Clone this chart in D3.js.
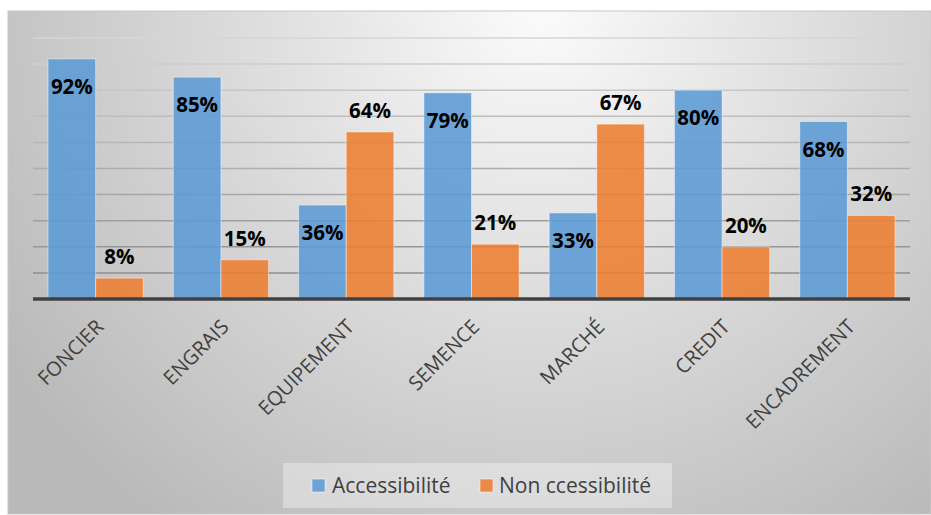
<!DOCTYPE html>
<html><head><meta charset="utf-8">
<script src="https://cdn.jsdelivr.net/npm/d3@7"></script>
<style>html,body{margin:0;padding:0;background:#fff;}svg{display:block;}</style>
</head><body>
<svg id="c" width="931" height="515"></svg>
<script>
const categories = ["FONCIER","ENGRAIS","EQUIPEMENT","SEMENCE","MARCHÉ","CREDIT","ENCADREMENT"];
const seriesNames = ["Accessibilité","Non ccessibilité"];
const accessibilite = [92,85,36,79,33,80,68];
const nonAccessibilite = [8,15,64,21,67,20,32];
const yTicks = [10,20,30,40,50,60,70,80,90,100];

(function(){
const colors = ["#5B9BD5","#ED7D31"];
const font = "'Open Sans', sans-serif";
const svg = d3.select("#c");
const defs = svg.append("defs");
const rg = defs.append("radialGradient").attr("id","bg")
  .attr("gradientUnits","userSpaceOnUse").attr("cx",540).attr("cy",10).attr("r",640);
rg.append("stop").attr("offset","0").attr("stop-color","#fbfbfb");
rg.append("stop").attr("offset","1").attr("stop-color","#b9b9b9");

svg.append("rect").attr("x",8).attr("y",11).attr("width",923).attr("height",503)
  .attr("fill","url(#bg)").attr("stroke","#c8c8c8").attr("stroke-width",1);

const pL=33, pR=910, pT=38, pB=299;
const x = d3.scaleBand().domain(categories).range([pL,pR]).paddingInner(0.24).paddingOuter(0.12);
const xs = d3.scaleBand().domain(seriesNames).range([0,x.bandwidth()]);
const y = d3.scaleLinear().domain([0,100]).range([pB,pT]);

const gcol = d3.scaleLinear().domain([10,100]).range(["#8e8e8e","#d6d6d6"]);
svg.append("g").selectAll("line").data(yTicks).join("line")
  .attr("x1",pL).attr("x2",pR).attr("y1",d=>y(d)).attr("y2",d=>y(d))
  .attr("stroke",d=>gcol(d)).attr("stroke-width",1.5);

const data = categories.map((c,i)=>({c, vals:[accessibilite[i], nonAccessibilite[i]]}));
const g = svg.append("g");
data.forEach(d=>{
  d.vals.forEach((v,j)=>{
    g.append("rect").attr("x",x(d.c)+xs(seriesNames[j])).attr("y",y(v))
      .attr("width",xs.bandwidth()).attr("height",y(0)-y(v))
      .attr("fill",colors[j]).attr("fill-opacity",0.88)
      .attr("stroke","rgba(255,255,255,0.45)").attr("stroke-width",1);
  });
});
data.forEach(d=>{
  d.vals.forEach((v,j)=>{
    g.append("text").attr("x",x(d.c)+xs(seriesNames[j])+xs.bandwidth()/2)
      .attr("y", j===0 ? y(v)+35 : y(v)-14)
      .attr("text-anchor","middle").attr("font-family",font).attr("font-weight","bold")
      .attr("font-size",20.5).attr("fill","#000").text(v+"%");
  });
});

svg.append("line").attr("x1",pL).attr("x2",pR).attr("y1",pB).attr("y2",pB)
  .attr("stroke","#404040").attr("stroke-width",3.5);

const xa = svg.append("g");
categories.forEach(c=>{
  const cx = x(c)+x.bandwidth()/2;
  xa.append("text").attr("transform",`translate(${cx-1},${318}) rotate(-45)`)
    .attr("text-anchor","end").attr("dy","0.71em")
    .attr("font-family",font).attr("font-size",20).attr("fill","#404040").text(c);
});

svg.append("rect").attr("x",283).attr("y",463).attr("width",389).attr("height",45)
  .attr("fill","rgba(255,255,255,0.35)");
const lx = [312,480], tx=[332,499];
seriesNames.forEach((s,j)=>{
  svg.append("rect").attr("x",lx[j]).attr("y",479).attr("width",13).attr("height",13)
    .attr("fill",colors[j]).attr("fill-opacity",0.88).attr("stroke","rgba(255,255,255,0.5)");
  svg.append("text").attr("x",tx[j]).attr("y",493).attr("font-family",font)
    .attr("font-size",21).attr("fill","#404040").text(s);
});
})();
</script>
</body></html>
